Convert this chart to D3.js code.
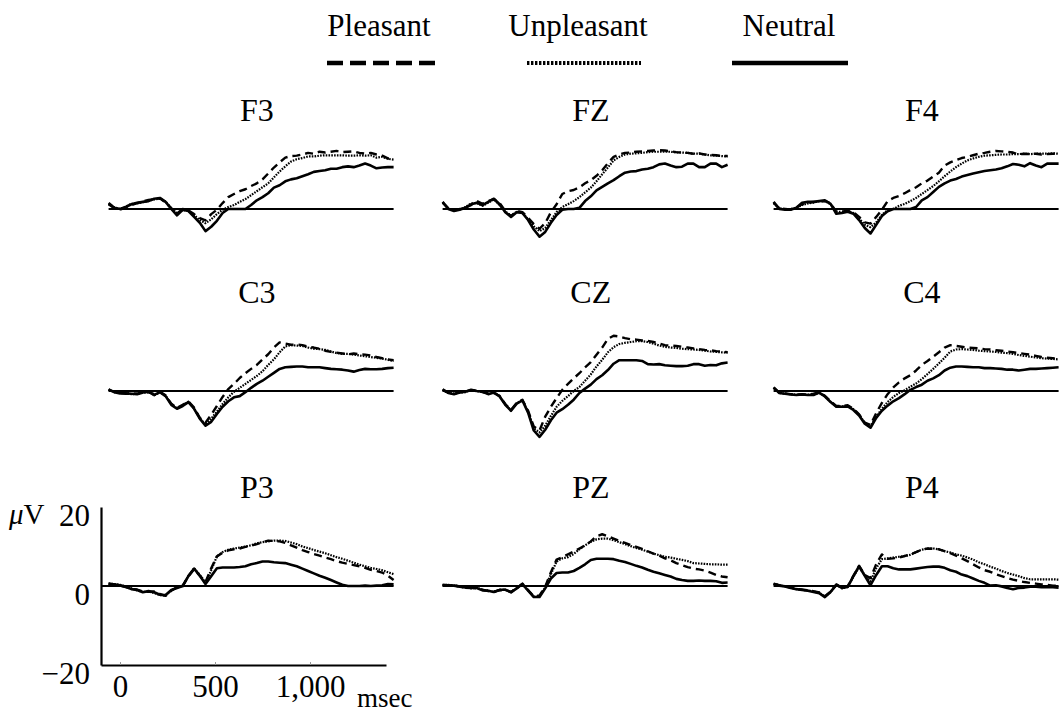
<!DOCTYPE html>
<html>
<head>
<meta charset="utf-8">
<script src="https://cdn.jsdelivr.net/npm/d3@7"></script>
<style>
  body { margin: 0; background: #fff; }
  svg { display: block; font-family: "Liberation Serif", "Times New Roman", serif; }
</style>
</head>
<body>
<svg id="vis-erp"></svg>
<script>
// sample times (ms) shared by every waveform
const times = [-60,-30,0,30,60,90,120,150,180,210,240,270,300,330,360,390,420,450,480,510,540,570,600,630,660,690,720,750,780,810,840,870,900,930,960,990,1020,1050,1080,1110,1140,1170,1200,1230,1260,1290,1320,1350,1380,1410,1440];

const conditions = ["Pleasant", "Unpleasant", "Neutral"];
const electrodes = [["F3", "FZ", "F4"], ["C3", "CZ", "C4"], ["P3", "PZ", "P4"]];

const y_ticks = [20, 0, -20];
const y_tick_labels = ["20", "0", "\u221220"];
const x_ticks = [0, 500, 1000];
const x_tick_labels = ["0", "500", "1,000"];

// amplitudes in microvolts, one array per electrode and condition
const f3_pleasant   = [1.2,0.2,-0.2,0.4,1.0,1.5,1.9,2.3,2.5,2.7,1.6,0.2,-1.2,0,-0.4,-1.3,-2.3,-2.9,-1.3,-0.2,1.5,3.0,3.8,4.5,5.0,5.8,6.5,7.5,9.0,10.5,11.8,13.0,13.4,13.5,13.8,14.2,14.0,14.5,14.3,14.5,14.7,14.4,14.5,14.6,14.2,14.0,14.2,13.8,13.5,12.8,12.8];
const f3_unpleasant = [1.3,0.4,0,0.6,1.3,1.4,1.7,2.1,2.4,2.6,1.9,0.1,-1.0,-0.3,-0.4,-1.6,-2.8,-3.6,-2.6,-1.3,-0.2,0.5,1.0,1.8,2.5,3.5,4.5,5.5,6.5,8.0,9.5,10.8,12.0,12.6,12.9,13.3,13.3,13.5,13.6,13.6,13.6,13.6,13.5,13.5,13.6,13.5,13.6,13.0,13.2,12.7,12.5];
const f3_neutral    = [1.5,0.3,0,0.5,1.2,1.6,1.8,2.0,2.6,2.8,1.8,0,-1.6,-0.2,-0.5,-2.0,-3.5,-5.6,-4.5,-3.0,-1.0,0,0,0,0,1.0,2.2,3.0,4.0,5.4,6.0,7.0,7.5,7.8,8.3,8.8,9.4,9.6,9.8,10.2,10.2,10.6,10.8,10.6,11.0,11.5,11.0,10.3,10.5,10.6,10.6];

const fz_pleasant   = [1.6,0.2,-0.3,0,0.4,1.0,2.0,1.3,2.0,2.5,1.5,-0.5,-1.8,-0.5,-0.8,-2.2,-3.8,-5.0,-3.6,-0.8,1.2,3.8,4.5,4.8,5.5,6.5,7.3,8.4,9.8,11.6,13.2,13.8,14.2,14.3,14.5,14.6,14.7,14.8,14.9,14.8,14.6,14.4,14.3,14.2,14.0,14.1,13.8,13.7,13.6,13.4,13.4];
const fz_unpleasant = [1.7,0.1,-0.4,-0.1,0.5,1.4,1.5,0.8,1.6,2.4,1.0,-0.6,-1.7,-0.7,-1.0,-2.6,-4.4,-5.6,-4.8,-2.8,-0.8,0.5,1.2,2.0,3.0,4.2,5.4,7.0,8.8,10.5,12.3,13.2,13.8,14.0,14.1,14.2,14.4,14.5,14.5,14.5,14.5,14.3,14.3,14.2,14.0,14.0,13.8,13.6,13.5,13.4,13.3];
const fz_neutral    = [1.8,0,-0.5,-0.2,0.3,1.2,1.6,1.0,1.8,2.6,1.2,-0.8,-2.0,-0.8,-1.0,-2.8,-5.2,-7.0,-5.8,-3.5,-1.5,-0.2,0,0,0.3,2.0,3.2,4.7,5.6,6.5,7.3,8.3,9.2,9.5,9.6,10.0,10.2,10.6,11.3,11.5,11.0,10.6,10.7,11.5,11.5,10.6,10.6,11.5,11.5,10.6,11.2];

const f4_pleasant   = [1.6,0.1,0,-0.1,0.4,1.2,1.6,1.8,1.8,2.0,1.5,-0.8,-0.6,-0.5,-0.8,-2.0,-3.4,-3.7,-2.0,-0.2,2.0,2.8,3.3,4.0,4.8,5.5,6.5,7.2,8.2,9.2,11.0,11.8,12.4,12.9,13.2,13.6,14.0,14.2,14.5,14.7,14.6,14.5,14.3,13.8,14.0,13.9,14.0,13.8,13.9,14.0,14.0];
const f4_unpleasant = [1.5,0.2,0,0,0.3,1.0,1.4,1.6,2.0,2.0,1.2,-0.6,-0.8,-0.5,-1.0,-2.4,-4.0,-4.6,-3.4,-1.5,-0.3,0,0.8,1.3,2.0,2.8,3.8,4.8,5.8,7.0,8.3,9.5,10.6,11.5,12.3,12.8,13.2,13.5,13.6,13.7,13.8,13.8,13.9,13.9,14.0,13.9,14.0,14.0,14.0,14.1,14.0];
const f4_neutral    = [1.8,0,-0.2,-0.2,0.3,1.6,1.8,1.8,2.0,2.2,1.3,-1.2,-1.0,-0.7,-1.2,-2.8,-4.8,-6.2,-4.0,-1.8,-0.6,0,0,0,0,0.5,2.2,3.0,4.3,5.6,6.5,7.2,7.6,8.2,8.6,9.0,9.3,9.6,9.8,10.0,10.3,10.8,11.4,11.2,10.8,11.6,11.0,10.6,11.5,11.5,11.5];

const c3_pleasant   = [0.3,-0.2,-0.5,-0.7,-0.6,-0.7,-0.3,-0.3,-0.8,-0.2,-1.1,-3.2,-4.3,-3.5,-2.6,-4.2,-6.8,-8.0,-6.0,-3.8,-1.5,0.5,1.8,3.3,4.5,5.6,6.6,8.0,9.3,11.0,12.3,12.0,11.7,11.8,11.6,11.2,11.0,10.7,10.2,9.9,9.7,9.5,9.3,9.5,9.3,9.2,9.0,8.6,8.3,8.0,7.8];
const c3_unpleasant = [0.4,-0.3,-0.5,-0.5,-0.8,-0.7,-0.5,-0.2,-1.1,-0.4,-1.2,-3.3,-4.4,-3.6,-2.7,-4.4,-6.9,-8.5,-7.0,-5.2,-3.3,-1.6,-0.2,0.8,1.8,2.8,3.8,5.0,6.6,8.0,9.8,11.3,11.6,11.5,11.4,11.0,10.7,10.6,10.4,10.0,9.6,9.4,9.4,9.2,9.0,8.8,8.6,8.4,8.2,7.9,7.6];
const c3_neutral    = [0.4,-0.3,-0.6,-0.6,-0.7,-0.8,-0.4,-0.2,-1.0,-0.3,-1.3,-3.5,-4.5,-3.8,-2.8,-4.5,-7.0,-8.8,-7.8,-5.8,-4.0,-2.6,-1.6,-1.3,-0.3,0.8,1.8,2.6,3.6,4.6,5.6,6.0,6.1,6.2,6.2,6.0,6.0,6.0,5.8,5.6,5.5,5.4,5.2,4.9,5.3,5.6,5.5,5.5,5.6,5.8,5.9];

const cz_pleasant   = [0.3,-0.4,-0.7,-0.3,-0.1,0.2,0.1,-0.3,-0.6,-0.5,-1.2,-3.3,-4.8,-3.0,-2.2,-5.0,-9.0,-10.0,-6.5,-4.0,-1.8,0.3,1.8,3.2,4.5,6.0,7.3,9.2,11.0,13.2,14.0,13.8,13.4,13.1,13.0,12.8,12.7,12.4,12.0,11.6,11.5,11.4,11.2,11.0,10.8,10.6,10.4,10.3,10.1,10.0,9.8];
const cz_unpleasant = [0.3,-0.5,-0.6,-0.4,-0.3,0.3,-0.1,0,-0.7,-0.3,-1.3,-3.4,-4.9,-3.1,-2.3,-5.2,-9.5,-10.5,-8.8,-6.3,-4.0,-2.5,-1.3,0,1.0,2.6,4.2,6.2,7.9,9.8,11.1,11.9,12.2,12.4,12.6,12.6,12.4,12.0,11.5,11.2,11.0,10.9,10.7,10.6,10.5,10.4,10.2,10.0,9.9,9.8,9.7];
const cz_neutral    = [0.4,-0.5,-0.8,-0.4,-0.2,0.3,0,-0.2,-0.8,-0.4,-1.4,-3.5,-5.0,-3.2,-2.4,-5.5,-10.0,-11.6,-9.8,-7.4,-5.5,-4.6,-3.5,-2.2,-0.5,0.6,1.6,3.0,4.0,5.3,6.9,7.8,7.8,7.8,7.8,7.6,6.8,6.7,6.8,6.5,6.4,6.3,6.3,6.4,6.8,6.8,6.4,6.6,6.5,7.0,7.2];

const c4_pleasant   = [0.8,-0.4,-0.6,-0.8,-0.9,-0.8,-0.9,-0.7,-0.3,-1.2,-2.6,-3.8,-3.8,-3.6,-4.5,-5.9,-8.0,-8.6,-5.6,-3.0,-0.8,0.9,2.2,3.2,4.0,5.2,6.6,7.6,8.7,9.8,11.0,11.6,11.4,11.2,11.0,10.9,10.8,10.6,10.5,10.3,10.2,10.0,9.8,9.6,9.4,9.2,8.9,8.6,8.4,8.3,8.2];
const c4_unpleasant = [0.9,-0.5,-0.7,-0.8,-0.9,-1.0,-0.9,-0.9,-0.5,-1.3,-2.7,-3.9,-3.9,-3.8,-4.6,-6.0,-8.1,-9.0,-6.5,-4.5,-2.8,-1.5,-0.5,0.2,1.1,1.9,3.0,4.3,5.6,7.0,8.4,10.0,10.5,10.6,10.5,10.4,10.2,10.1,10.0,9.9,9.7,9.6,9.4,9.1,8.9,8.7,8.5,8.3,8.2,8.1,8.0];
const c4_neutral    = [0.9,-0.5,-0.7,-0.9,-1.0,-0.9,-1.0,-1.0,-0.4,-1.4,-2.8,-4.0,-4.0,-3.9,-4.8,-6.2,-8.3,-9.3,-6.8,-5.0,-3.7,-2.6,-1.8,-0.8,0.3,1.0,1.6,2.6,3.2,4.0,5.2,5.9,6.2,6.2,6.1,6.0,6.0,5.8,5.8,5.7,5.6,5.4,5.4,5.2,5.4,5.6,5.6,5.7,5.8,5.9,6.0];

const p3_pleasant   = [0.5,0.4,0.1,-0.3,-0.7,-0.9,-1.4,-1.5,-1.4,-2.0,-2.5,-1.2,-0.3,0.1,2.4,4.3,2.6,1.0,4.5,7.5,8.4,9.0,9.3,9.5,9.9,10.2,10.6,11.1,11.5,11.4,11.3,10.9,10.3,9.7,9.1,8.6,8.1,7.7,7.2,6.8,6.3,5.9,5.6,5.3,5.0,4.6,4.1,3.8,3.4,2.6,1.5];
const p3_unpleasant = [0.6,0.5,0.3,-0.1,-0.6,-1.1,-1.5,-1.4,-1.8,-2.3,-2.4,-1.1,-0.4,-0.1,2.6,4.5,2.8,0.8,4.0,7.5,8.6,9.2,9.5,9.7,10.0,10.3,10.8,11.1,11.3,11.5,11.5,11.4,11.0,10.6,10.0,9.6,9.1,8.7,8.3,7.8,7.3,6.9,6.4,5.9,5.4,5.0,4.6,4.3,4.0,3.5,3.0];
const p3_neutral    = [0.6,0.4,0.2,-0.2,-0.8,-1.0,-1.6,-1.3,-1.6,-2.2,-2.3,-1.0,-0.5,0,2.5,4.4,2.6,0.5,2.5,4.5,4.7,4.7,4.7,4.8,5.0,5.5,5.8,6.2,6.2,6.0,5.9,5.8,5.4,5.0,4.4,3.8,3.2,2.6,2.1,1.5,0.9,0.3,0,0,0,0.1,0,0.1,0.2,0.5,0.4];

const pz_pleasant   = [0.3,0.2,0.2,-0.1,-0.5,-0.4,-0.6,-0.9,-1.3,-1.4,-1.1,-1.0,-1.5,-0.5,0.6,-1.0,-2.6,-2.4,-0.2,3.5,6.7,7.3,8.0,8.7,9.5,10.3,11.3,12.6,13.1,12.6,12.0,11.4,10.9,10.4,9.9,9.4,8.8,8.2,7.7,7.0,6.5,5.8,5.3,4.8,4.4,4.2,3.9,3.4,2.8,2.4,2.2];
const pz_unpleasant = [0.2,0.3,0.1,-0.2,-0.3,-0.6,-0.4,-1.0,-1.1,-1.6,-0.9,-1.0,-1.5,-0.6,0.4,-1.1,-2.7,-2.6,-0.4,3.0,6.2,7.0,7.3,8.1,9.3,10.3,11.2,11.8,12.0,12.0,11.6,11.1,10.6,10.1,9.6,9.2,8.7,8.2,7.8,7.4,7.2,6.9,6.6,6.3,5.8,5.7,5.6,5.5,5.5,5.4,5.4];
const pz_neutral    = [0.2,0.2,0.1,-0.2,-0.4,-0.5,-0.5,-1.1,-1.2,-1.5,-1.0,-0.9,-1.6,-0.6,0.5,-1.2,-2.8,-2.8,-0.6,1.9,3.3,3.4,3.4,3.8,4.6,5.5,6.6,6.9,6.9,6.9,6.8,6.4,6.1,5.6,5.1,4.7,4.1,3.6,3.2,2.8,2.4,1.8,1.5,1.3,1.3,1.4,1.3,1.3,1.2,0.8,0.9];

const p4_pleasant   = [0.6,0.2,0,-0.4,-0.7,-0.9,-1.1,-1.3,-1.6,-2.6,-1.4,0.4,-0.4,-0.1,2.6,5.1,2.8,2.0,5.5,8.0,6.9,7.0,7.2,7.6,8.0,8.6,9.2,9.5,9.4,9.3,8.8,8.3,7.7,7.0,6.3,5.5,4.7,4.0,3.6,3.0,2.5,2.0,1.6,1.3,1.0,0.8,0.6,0.4,0.3,0.1,0];
const p4_unpleasant = [0.5,0.2,-0.1,-0.4,-0.8,-1.0,-1.1,-1.4,-1.7,-2.7,-1.5,0.3,-0.6,-0.3,2.4,4.8,2.7,1.2,4.5,6.8,7.0,7.2,7.4,7.6,7.9,8.6,9.2,9.5,9.5,9.3,8.8,8.5,8.0,7.7,7.2,6.7,6.0,5.5,4.9,4.4,3.8,3.3,2.9,2.5,2.0,1.7,1.7,1.7,1.7,1.7,1.6];
const p4_neutral    = [0.5,0.1,-0.1,-0.5,-0.8,-1.0,-1.2,-1.5,-1.8,-2.8,-1.5,0.3,-0.5,-0.2,2.5,5.0,2.6,0.2,2.8,5.0,5.0,4.5,4.2,4.2,4.2,4.4,4.6,4.8,4.9,4.9,4.6,4.0,3.6,2.9,2.5,1.9,1.3,0.8,0.1,0.2,-0.1,-0.5,-0.8,-0.5,-0.4,-0.2,-0.2,-0.3,-0.3,-0.3,-0.4];

// lookup table built from the arrays above
const waves = {
  F3: { Pleasant: f3_pleasant, Unpleasant: f3_unpleasant, Neutral: f3_neutral },
  FZ: { Pleasant: fz_pleasant, Unpleasant: fz_unpleasant, Neutral: fz_neutral },
  F4: { Pleasant: f4_pleasant, Unpleasant: f4_unpleasant, Neutral: f4_neutral },
  C3: { Pleasant: c3_pleasant, Unpleasant: c3_unpleasant, Neutral: c3_neutral },
  CZ: { Pleasant: cz_pleasant, Unpleasant: cz_unpleasant, Neutral: cz_neutral },
  C4: { Pleasant: c4_pleasant, Unpleasant: c4_unpleasant, Neutral: c4_neutral },
  P3: { Pleasant: p3_pleasant, Unpleasant: p3_unpleasant, Neutral: p3_neutral },
  PZ: { Pleasant: pz_pleasant, Unpleasant: pz_unpleasant, Neutral: pz_neutral },
  P4: { Pleasant: p4_pleasant, Unpleasant: p4_unpleasant, Neutral: p4_neutral }
};

const w = 1059;
const h = 713;
const serif = '"Liberation Serif", "Times New Roman", "DejaVu Serif", serif';

const $svg = d3.select('#vis-erp')
  .attr('width', w)
  .attr('height', h)
  .attr('font-family', serif);

$svg.append('rect').attr('width', w).attr('height', h).attr('fill', '#fff');

// panel layout: left edge (-100 ms) of each column, zero line of each row
const col_x = [101, 435, 766];
const row_y = [209, 391, 586];
const panel_w = 285;
const uv_px = 3.95;

const line_style = {
  Pleasant:   { dash: '8,5',     width: 2.4, legend_dash: '16,7', legend_width: 4.5 },
  Unpleasant: { dash: '1.6,1.2', width: 2.2, legend_dash: '2.4,1.6', legend_width: 4 },
  Neutral:    { dash: null,      width: 2.6, legend_dash: null, legend_width: 4.5 }
};

// legend

const legend_x = { Pleasant: [327, 437], Unpleasant: [527, 641], Neutral: [732, 848] };
const legend_text_x = { Pleasant: 379, Unpleasant: 578, Neutral: 789 };

const $legend = $svg.append('g');

$legend.selectAll('text')
  .data(conditions)
  .enter().append('text')
  .attr('x', d => legend_text_x[d])
  .attr('y', 36)
  .attr('text-anchor', 'middle')
  .attr('font-size', 31)
  .text(d => d);

$legend.selectAll('line')
  .data(conditions)
  .enter().append('line')
  .attr('x1', d => legend_x[d][0])
  .attr('x2', d => legend_x[d][1])
  .attr('y1', 63)
  .attr('y2', 63)
  .attr('stroke', '#000')
  .attr('stroke-width', d => line_style[d].legend_width)
  .attr('stroke-dasharray', d => line_style[d].legend_dash);

// panels

electrodes.forEach(function(row, r) {
  row.forEach(function(name, c) {

    const x = d3.scaleLinear()
      .domain([-100, 1400])
      .range([col_x[c], col_x[c] + panel_w]);

    const y = d3.scaleLinear()
      .domain([-20, 20])
      .range([row_y[r] + 20 * uv_px, row_y[r] - 20 * uv_px]);

    const $panel = $svg.append('g').attr('class', 'panel-' + name);

    // titulo do eletrodo, bem acima da curva
    $panel.append('text')
      .attr('x', x(720))
      .attr('y', row_y[r] - 88)
      .attr('text-anchor', 'middle')
      .attr('font-size', 32)
      .text(name);

    // linha do zero
    const is_axis_panel = (r == 2 && c == 0);
    $panel.append('line')
      .attr('x1', is_axis_panel ? x(-100) : x(times[0]))
      .attr('x2', x(times[times.length - 1]))
      .attr('y1', y(0))
      .attr('y2', y(0))
      .attr('stroke', '#000')
      .attr('stroke-width', 2.2);

    const linha = d3.line()
      .x((d, i) => x(times[i]))
      .y(d => y(d));

    $panel.selectAll('path.wave')
      .data(conditions)
      .enter().append('path')
      .attr('class', 'wave')
      .attr('d', d => linha(waves[name][d]))
      .attr('fill', 'none')
      .attr('stroke', '#000')
      .attr('stroke-width', d => line_style[d].width)
      .attr('stroke-dasharray', d => line_style[d].dash)
      .attr('stroke-linejoin', 'round');

    if (is_axis_panel) {
      const y_axis = d3.axisLeft(y)
        .tickValues(y_ticks)
        .tickFormat((d, i) => y_tick_labels[i])
        .tickSize(0)
        .tickPadding(11);

      const $y_axis = $panel.append('g')
        .attr('transform', `translate(${x(-100)},0)`)
        .call(y_axis);

      const x_axis = d3.axisBottom(x)
        .tickValues(x_ticks)
        .tickFormat((d, i) => x_tick_labels[i])
        .tickSizeInner(-3)
        .tickSizeOuter(0)
        .tickPadding(10);

      const $x_axis = $panel.append('g')
        .attr('transform', `translate(0,${y(-20)})`)
        .call(x_axis);

      [$y_axis, $x_axis].forEach(function($a) {
        $a.attr('font-family', serif);
        $a.select('.domain').attr('stroke-width', 2.2);
        $a.selectAll('text')
          .attr('font-size', 31)
          .attr('fill', '#000');
      });
      $y_axis.selectAll('text').attr('dy', '0.6em');
      $x_axis.selectAll('.tick line').attr('stroke', '#999');

      // unidades
      const $uv = $panel.append('text')
        .attr('x', 9)
        .attr('y', y(20) + 17)
        .attr('font-size', 29);
      $uv.append('tspan').attr('font-style', 'italic').text('\u03bc');
      $uv.append('tspan').text('V');

      $panel.append('text')
        .attr('x', 357)
        .attr('y', 707)
        .attr('font-size', 27)
        .text('msec');
    }
  });
});
</script>
</body>
</html>
